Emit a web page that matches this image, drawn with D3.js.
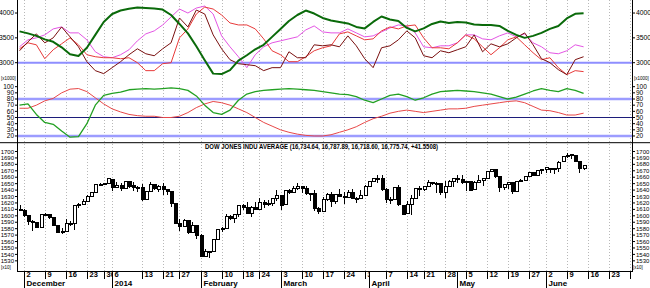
<!DOCTYPE html>
<html><head><meta charset="utf-8">
<script src="https://cdn.jsdelivr.net/npm/d3@7"></script>
<style>body{margin:0;background:#fff} svg{display:block}</style>
</head><body><svg id="c" width="650" height="288"></svg>
<script>
// ---------- DATA ----------
const dates = ["2013-11-29","2013-12-02","2013-12-03","2013-12-04","2013-12-05","2013-12-06","2013-12-09","2013-12-10","2013-12-11","2013-12-12","2013-12-13","2013-12-16","2013-12-17","2013-12-18","2013-12-19","2013-12-20","2013-12-23","2013-12-24","2013-12-26","2013-12-27","2013-12-30","2013-12-31","2014-01-02","2014-01-03","2014-01-06","2014-01-07","2014-01-08","2014-01-09","2014-01-10","2014-01-13","2014-01-14","2014-01-15","2014-01-16","2014-01-17","2014-01-21","2014-01-22","2014-01-23","2014-01-24","2014-01-27","2014-01-28","2014-01-29","2014-01-30","2014-01-31","2014-02-03","2014-02-04","2014-02-05","2014-02-06","2014-02-07","2014-02-10","2014-02-11","2014-02-12","2014-02-13","2014-02-14","2014-02-18","2014-02-19","2014-02-20","2014-02-21","2014-02-24","2014-02-25","2014-02-26","2014-02-27","2014-02-28","2014-03-03","2014-03-04","2014-03-05","2014-03-06","2014-03-07","2014-03-10","2014-03-11","2014-03-12","2014-03-13","2014-03-14","2014-03-17","2014-03-18","2014-03-19","2014-03-20","2014-03-21","2014-03-24","2014-03-25","2014-03-26","2014-03-27","2014-03-28","2014-03-31","2014-04-01","2014-04-02","2014-04-03","2014-04-04","2014-04-07","2014-04-08","2014-04-09","2014-04-10","2014-04-11","2014-04-14","2014-04-15","2014-04-16","2014-04-17","2014-04-21","2014-04-22","2014-04-23","2014-04-24","2014-04-25","2014-04-28","2014-04-29","2014-04-30","2014-05-01","2014-05-02","2014-05-05","2014-05-06","2014-05-07","2014-05-08","2014-05-09","2014-05-12","2014-05-13","2014-05-14","2014-05-15","2014-05-16","2014-05-19","2014-05-20","2014-05-21","2014-05-22","2014-05-23","2014-05-27","2014-05-28","2014-05-29","2014-05-30","2014-06-02","2014-06-03","2014-06-04","2014-06-05","2014-06-06","2014-06-09","2014-06-10","2014-06-11","2014-06-12","2014-06-13"];
const firstDay = -1; // trading-day index of first candle (Dec 2 = 0)
const opens  = [1609.7,1608.6,1600.9,1591.5,1588.9,1582.3,1602.0,1602.2,1597.2,1584.3,1574.0,1575.6,1588.4,1587.6,1616.7,1618.0,1622.2,1629.5,1635.8,1648.0,1648.0,1650.4,1657.2,1644.2,1647.1,1642.6,1653.0,1646.4,1644.5,1643.7,1625.9,1637.4,1648.1,1641.4,1646.0,1641.5,1637.2,1619.6,1588.0,1583.8,1592.6,1574.1,1584.5,1569.8,1537.2,1544.5,1544.1,1563.1,1579.2,1580.1,1599.5,1595.5,1602.5,1615.4,1612.5,1603.9,1613.4,1610.4,1620.8,1618.0,1619.7,1627.4,1632.1,1617.0,1639.6,1636.1,1642.3,1645.2,1641.9,1634.9,1634.0,1610.8,1606.6,1624.7,1633.6,1622.1,1633.2,1630.3,1627.8,1636.8,1626.9,1626.4,1632.3,1645.8,1653.3,1657.3,1657.4,1641.2,1624.5,1625.6,1643.7,1616.8,1602.9,1617.4,1626.4,1642.4,1640.9,1644.9,1651.4,1650.2,1650.2,1636.3,1645.0,1653.4,1658.0,1655.9,1651.2,1653.0,1640.3,1651.8,1655.0,1658.4,1669.6,1671.4,1661.3,1644.6,1648.7,1651.1,1637.5,1653.3,1654.3,1660.6,1667.5,1663.3,1669.9,1671.8,1674.3,1672.1,1673.8,1683.7,1692.4,1694.2,1694.5,1684.3,1673.4];
const highs  = [1617.4,1610.5,1601.4,1593.0,1589.1,1602.9,1604.8,1602.2,1598.9,1584.9,1580.4,1594.6,1591.9,1617.5,1620.1,1626.7,1632.1,1635.8,1648.3,1651.1,1651.4,1658.9,1657.2,1652.6,1650.8,1654.8,1653.4,1652.1,1646.0,1649.5,1638.9,1652.2,1648.1,1648.0,1651.4,1642.1,1637.2,1619.6,1595.0,1594.3,1592.6,1591.1,1584.5,1572.2,1548.5,1544.5,1564.5,1580.1,1582.1,1602.8,1601.5,1603.3,1617.1,1618.0,1621.8,1614.6,1621.1,1627.4,1624.0,1624.8,1628.0,1639.8,1632.1,1640.6,1641.3,1646.9,1650.5,1645.2,1645.9,1635.1,1640.5,1614.4,1628.6,1634.9,1636.5,1634.0,1642.3,1636.3,1640.0,1641.3,1629.3,1640.6,1647.6,1654.7,1658.4,1663.1,1663.1,1643.1,1629.0,1644.2,1647.2,1617.0,1623.3,1631.7,1643.0,1645.9,1645.1,1656.4,1652.0,1652.6,1650.2,1653.6,1655.1,1658.1,1663.3,1663.2,1653.3,1653.1,1654.0,1663.5,1658.5,1670.0,1673.5,1671.4,1661.3,1649.1,1652.0,1651.1,1653.6,1657.4,1660.6,1667.5,1668.3,1670.0,1672.9,1674.7,1674.3,1674.4,1684.5,1692.4,1697.0,1695.9,1694.5,1684.3,1678.8];
const lows   = [1607.9,1598.5,1586.2,1576.6,1580.5,1582.3,1600.6,1595.4,1583.9,1572.6,1572.0,1575.6,1583.8,1578.0,1612.0,1618.0,1622.2,1629.5,1635.8,1647.2,1647.7,1650.4,1638.5,1643.8,1639.1,1642.6,1643.1,1638.9,1636.3,1623.6,1625.9,1637.4,1639.5,1637.1,1632.2,1633.0,1613.5,1587.9,1576.6,1583.8,1571.2,1574.1,1564.4,1535.6,1537.2,1534.1,1544.1,1563.1,1574.1,1580.1,1593.9,1588.6,1598.0,1608.3,1603.0,1598.0,1610.0,1610.4,1612.4,1615.3,1615.2,1622.9,1608.9,1617.0,1633.7,1636.1,1640.2,1634.7,1632.7,1623.0,1606.9,1603.3,1606.6,1623.0,1613.7,1619.0,1629.4,1619.0,1627.8,1626.7,1619.8,1626.4,1632.3,1645.8,1652.9,1651.4,1638.5,1620.0,1617.9,1625.5,1615.9,1601.5,1602.9,1601.5,1626.4,1631.3,1638.6,1644.9,1647.6,1636.0,1632.6,1627.1,1645.0,1645.4,1650.9,1649.6,1638.4,1639.8,1640.3,1650.6,1646.2,1658.4,1667.5,1659.0,1637.4,1639.5,1641.9,1633.8,1637.5,1652.0,1654.3,1660.6,1662.5,1663.3,1665.4,1666.7,1666.4,1665.2,1668.2,1683.7,1690.6,1688.4,1683.4,1667.2,1671.9];
const closes = [1608.6,1600.9,1591.5,1589.0,1582.2,1602.0,1602.6,1597.3,1584.4,1574.0,1575.5,1588.5,1587.5,1616.8,1617.9,1622.1,1629.5,1635.8,1648.0,1647.8,1650.4,1657.7,1644.1,1647.0,1642.5,1653.1,1646.3,1644.5,1643.7,1625.8,1637.4,1648.2,1641.7,1645.9,1641.4,1637.3,1619.7,1587.9,1583.8,1592.9,1573.9,1584.9,1569.9,1537.3,1544.5,1544.0,1562.9,1579.4,1580.2,1599.5,1596.4,1602.8,1615.4,1613.0,1604.1,1613.3,1610.3,1620.7,1618.0,1619.8,1627.3,1632.2,1616.8,1639.6,1636.0,1642.2,1645.3,1641.9,1635.1,1634.0,1610.9,1606.6,1624.7,1633.6,1622.2,1633.1,1630.3,1627.7,1636.8,1626.9,1626.4,1632.3,1645.8,1653.3,1657.3,1657.3,1641.3,1624.6,1625.6,1643.7,1617.0,1602.7,1617.3,1626.3,1642.5,1640.9,1644.9,1651.4,1650.2,1650.2,1636.1,1644.9,1653.5,1658.1,1655.9,1651.3,1653.1,1640.1,1651.9,1655.1,1658.3,1669.5,1671.5,1661.4,1644.7,1649.1,1651.2,1637.4,1653.3,1654.3,1660.6,1667.6,1663.3,1669.9,1671.7,1674.4,1672.2,1673.8,1683.6,1692.4,1694.3,1694.6,1684.4,1673.4,1677.6];

// oscillator lines, sampled every 2nd trading day
const lineDays = [-1,1,3,5,7,9,11,13,15,17,19,21,23,25,27,29,31,33,35,37,39,41,43,45,47,49,51,53,55,57,59,61,63,65,67,69,71,73,75,77,79,81,83,85,87,89,91,93,95,97,99,101,103,105,107,109,111,113,115,117,119,121,123,125,127,129,131,133];
const topGreen  = [3630,3590,3540,3470,3420,3310,3170,3135,3300,3560,3820,3980,4050,4085,4110,4100,4090,4070,3960,3780,3590,3330,3050,2780,2770,2850,3040,3150,3270,3360,3520,3680,3840,3960,4050,3990,3900,3850,3820,3790,3720,3690,3820,3930,3870,3840,3700,3630,3690,3780,3830,3800,3820,3810,3770,3760,3760,3740,3640,3560,3500,3540,3600,3680,3740,3890,3985,3995];
const topPink   = [3320,3460,3500,3560,3680,3720,3600,3600,3460,3220,3120,3100,3160,3260,3440,3580,3640,3760,3920,4080,4000,4100,4140,3980,3540,3320,3120,2900,3160,3320,3400,3440,3480,3520,3660,3740,3620,3600,3600,3680,3600,3520,3540,3620,3700,3760,3740,3600,3320,3300,3340,3340,3400,3560,3560,3480,3460,3540,3600,3520,3580,3400,3320,3200,3180,3240,3360,3320];
const topRed    = [3280,3400,3360,3080,3260,3380,3500,3360,3160,3120,3100,3100,3080,3100,3000,2840,2840,2980,3000,3500,3680,3980,4120,4080,3960,3800,3760,3760,3680,3480,3240,3160,3020,3020,3120,3240,3300,3340,3580,3620,3540,3460,3480,3640,3720,3680,3740,3760,3500,3300,3300,3280,3400,3560,3480,3320,3160,3300,3460,3520,3360,3200,3060,3100,2900,2760,2840,2820];
const topMaroon = [3240,3420,3580,3400,3500,3720,3520,3320,3020,2840,2780,2900,3020,3160,3280,3180,3140,3280,3400,3900,3720,4060,3980,3560,3280,3060,2980,2960,2940,2840,2900,2900,3220,3100,3100,3360,3340,3360,3320,3540,3340,3080,2900,3300,3340,3460,3640,3500,3140,3100,3240,3200,3260,3320,3560,3220,3380,3320,3380,3500,3600,3360,3080,3000,2860,2760,3060,3120];
const midRed    = [65,65,70,77,81,90,96,97,92,82,72,64,59,55,53,52,52,50,50,52,58,66,72,76,74,70,64,58,50,42,36,30,26,23,21,20,20,22,26,30,35,42,48,52,57,60,62,60,58,60,62,64,64,65,68,70,72,74,76,77,74,68,62,61,58,54,54,57];
const midGreen  = [70,72,55,42,39,28,18,19,40,70,86,89,91,95,96,97,96,97,98,97,94,85,70,58,55,62,78,88,92,94,95,96,97,96,95,94,92,90,88,87,84,78,74,80,86,88,84,78,82,88,92,93,94,93,92,90,88,84,80,83,88,93,97,94,92,97,94,89];

// axes
const topTicks = [3000,3500,4000];
const midTicks = [20,30,40,50,60,70,80,90,100];
const botTicks = [1530,1540,1550,1560,1570,1580,1590,1600,1610,1620,1630,1640,1650,1660,1670,1680,1690,1700];
const weekDays   = [0,5,10,15,19,21,28,33,37,42,47,52,56,61,66,71,76,81,86,91,95,100,105,110,115,120,124,129,134,139,144];
const weekLabels = ["2","9","16","23","30","6","13","21","27","3","10","18","24","3","10","17","24","31","7","14","21","28","5","12","19","27","2","9","16","23","30"];
const monthDays   = [0,21,42,61,82,103,124];
const monthLabels = ["December","2014","February","March","April","May","June"];
const title = "DOW JONES INDU AVERAGE (16,734.64, 16,787.89, 16,718.60, 16,775.74, +41.5508)";

// ---------- DRAW ----------
const svg = d3.select("#c");
const defs = svg.append("defs");
const L = 17, R = 632, AX = 271;
const x = d3.scaleLinear().domain([-1.6, 144.5]).range([L, R]);
const yTop = d3.scaleLinear().domain([2702, 4262]).range([77.5, 0]);
const yMid = d3.scaleLinear().domain([9.1, 114.9]).range([142.7, 77.5]);
const yBot = d3.scaleLinear().domain([1514.2, 1713.2]).range([AX, 143]);
const FONT = "'Liberation Sans', Arial, sans-serif";
const px = d => Math.round(x(d)) + 0.5;

// vertical dotted grid
svg.append("g").selectAll("line").data(weekDays.filter(d => x(d) < R - 1)).join("line")
  .attr("x1", px).attr("x2", px)
  .attr("y1", 0).attr("y2", AX)
  .attr("stroke", "#b8b8b8").attr("stroke-width", 1).attr("stroke-dasharray", "1,2");

// reference lines
const refs = svg.append("g");
refs.append("line").attr("x1", L).attr("x2", R).attr("y1", yTop(3000)).attr("y2", yTop(3000)).attr("stroke", "#8e8eff").attr("stroke-width", 2);
[80, 20].forEach(v => refs.append("line").attr("x1", L).attr("x2", R).attr("y1", yMid(v)).attr("y2", yMid(v)).attr("stroke", "#9c9cff").attr("stroke-width", 2.5));
refs.append("line").attr("x1", L).attr("x2", R).attr("y1", yMid(50)).attr("y2", yMid(50)).attr("stroke", "#1c1c7a").attr("stroke-width", 1.2);

// panel separator
svg.append("line").attr("x1", 0).attr("x2", 650).attr("y1", 142.7).attr("y2", 142.7).attr("stroke", "#000").attr("stroke-width", 1);

// lines
function drawLine(ys, vals, color, w) {
  const gen = d3.line().x((d, i) => x(lineDays[i])).y(d => ys(d));
  svg.append("path").datum(vals).attr("d", gen).attr("fill", "none")
    .attr("stroke", color).attr("stroke-width", w).attr("stroke-linejoin", "round");
}
drawLine(yTop, topPink, "#e455e4", 1);
drawLine(yTop, topRed, "#e83a3a", 1);
drawLine(yTop, topMaroon, "#7a1010", 1);
drawLine(yTop, topGreen, "#0a6a0a", 2);
drawLine(yMid, midRed, "#e84848", 1);
drawLine(yMid, midGreen, "#22a022", 1.3);

// candles
const cg = svg.append("g").attr("shape-rendering", "crispEdges");
dates.forEach((d, i) => {
  const cx = px(firstDay + i);
  const o = opens[i], c = closes[i];
  cg.append("line").attr("x1", cx).attr("x2", cx).attr("y1", yBot(highs[i])).attr("y2", yBot(lows[i])).attr("stroke", "#000");
  const top = yBot(Math.max(o, c)), bot = yBot(Math.min(o, c));
  cg.append("rect").attr("x", cx - 1.5).attr("width", 3)
    .attr("y", top).attr("height", Math.max(1, bot - top))
    .attr("fill", c < o ? "#000" : "#fff").attr("stroke", "#000").attr("stroke-width", 1);
});

// title
svg.append("text").attr("x", 321.5).attr("y", 148.5).attr("text-anchor", "middle")
  .attr("font-family", FONT).attr("font-weight", "bold").attr("font-size", 6.5)
  .attr("textLength", 233).attr("lengthAdjust", "spacingAndGlyphs").text(title);

// frame
svg.append("line").attr("x1", L + 0.5).attr("x2", L + 0.5).attr("y1", 0).attr("y2", AX).attr("stroke", "#000");
svg.append("line").attr("x1", R + 0.5).attr("x2", R + 0.5).attr("y1", 0).attr("y2", AX).attr("stroke", "#000");
svg.append("line").attr("x1", L).attr("x2", R + 1).attr("y1", AX + 0.5).attr("y2", AX + 0.5).attr("stroke", "#000").attr("stroke-width", 1.2);

// y axis labels
function yLabels(scale, ticks, fs) {
  const g = svg.append("g").attr("font-family", FONT).attr("font-size", fs).attr("fill", "#000");
  ticks.forEach(t => {
    const y = scale(t);
    g.append("text").attr("x", 14).attr("y", y).attr("dy", "0.35em").attr("text-anchor", "end").text(t);
    g.append("text").attr("x", 636).attr("y", y).attr("dy", "0.35em").attr("text-anchor", "start").text(t);
    g.append("line").attr("x1", R).attr("x2", R + 3).attr("y1", y).attr("y2", y).attr("stroke", "#000");
    g.append("line").attr("x1", L - 2).attr("x2", L).attr("y1", y).attr("y2", y).attr("stroke", "#000");
  });
}
yLabels(yTop, topTicks, 6.8);
yLabels(yMid, midTicks, 6.5);
yLabels(yBot, botTicks, 6);

const small = svg.append("g").attr("font-family", FONT).attr("font-size", 4.5).attr("fill", "#000");
small.append("text").attr("x", 1).attr("y", 80).text("[x1000]");
small.append("text").attr("x", 634).attr("y", 80).text("[x1000]");
small.append("text").attr("x", 1).attr("y", 268.5).text("[x10]");
small.append("text").attr("x", 633).attr("y", 268.5).text("[x10]");

// x axis: week ticks, each label clipped at the next vertical line
const bounds = Array.from(new Set(weekDays.map(px).concat(monthDays.map(px), [R + 0.5]))).sort((a, b) => a - b);
const xg = svg.append("g").attr("font-family", FONT).attr("font-weight", "bold").attr("fill", "#000");
weekDays.forEach((d, i) => {
  const p = px(d);
  if (p > R + 1) return;
  const next = bounds.find(b => b > p + 1);
  const id = "clipw" + i;
  defs.append("clipPath").attr("id", id).append("rect")
    .attr("x", p).attr("y", AX).attr("width", next - p - 0.5).attr("height", 10);
  xg.append("line").attr("x1", p).attr("x2", p).attr("y1", AX).attr("y2", AX + 8).attr("stroke", "#000");
  xg.append("text").attr("x", p + 2).attr("y", 277.4).attr("font-size", 7.5)
    .attr("clip-path", `url(#${id})`).text(weekLabels[i]);
});
// month labels
monthDays.forEach((d, i) => {
  const p = px(d);
  xg.append("line").attr("x1", p).attr("x2", p).attr("y1", AX).attr("y2", 288).attr("stroke", "#000");
  xg.append("text").attr("x", p + 2).attr("y", 286.3).attr("font-size", 8).text(monthLabels[i]);
});
</script></body></html>
